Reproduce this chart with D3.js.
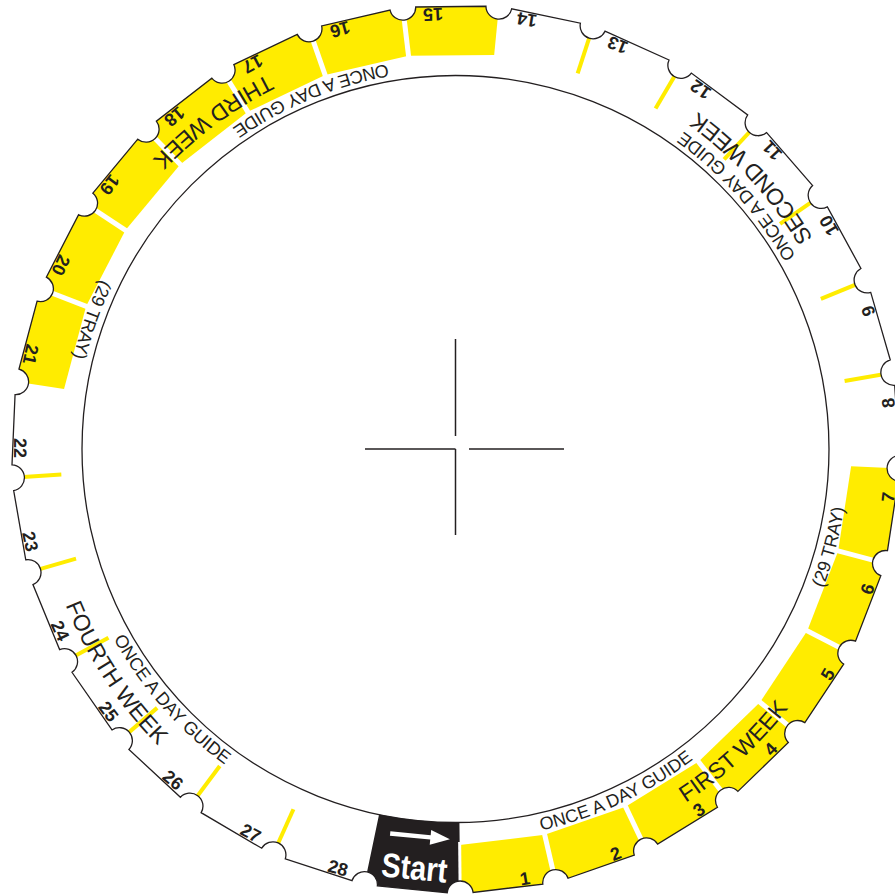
<!DOCTYPE html>
<html><head><meta charset="utf-8">
<script src="https://cdn.jsdelivr.net/npm/d3@7/dist/d3.min.js"></script>
<style>html,body{margin:0;padding:0;background:#fff;}svg{display:block}</style>
</head><body>
<svg id="c" width="895" height="894"></svg>
<script>
// ---------- data ----------
const dayLabels = ["1","2","3","4","5","6","7","8","9","10","11","12","13","14",
                   "15","16","17","18","19","20","21","22","23","24","25","26","27","28"];
const yellowDays = [1,2,3,4,5,6,7,15,16,17,18,19,20,21];
const tickDays = [9,10,11,12,13,14,23,24,25,26,27,28];   // tick at the start of these days
const weekLabels = ["FIRST WEEK","SECOND WEEK","THIRD WEEK","FOURTH WEEK"];
const weekSlots = [4.38, 11.62, 18.39, 25.39];
const guideLabel = "ONCE A DAY GUIDE";
const guideSlots = [2.97, 11.58, 17.26, 26.04];
const trayLabel = "(29 TRAY)";
const traySlots = [7.02, 21.13];
const startLabel = "Start";
const slotCount = 29;

// ---------- layout ----------
const cx = 455.5, cy = 449;
const R_IN = 373.5, R_Y = 396, R_V = 445, R_N = 13, R_OUT = 480;
const YELLOW = "#FFEC00", INK = "#231F20";
const FONT = "'Liberation Sans', Arial, Helvetica, sans-serif";

const angle = d3.scaleLinear().domain([0, slotCount]).range([191.81, 191.81 - 360]);
const rad = d => d * Math.PI / 180;
function polar(theta, r){ const t = rad(theta); return [cx + r*Math.sin(t), cy - r*Math.cos(t)]; }
function pt(u, r){ return polar(angle(u), r); }
function place(u, r){ const p = pt(u, r); return `translate(${p[0]},${p[1]}) rotate(${angle(u)-180})`; }

const svg = d3.select("#c");
const defs = svg.append("defs");

// outline with notches
const V = d3.range(slotCount).map(s => pt(s, R_V));
let d = "";
const A = [], B = [];
for (let i = 0; i < slotCount; i++){
  const P = V[i], Q = V[(i+1) % slotCount];
  const dx = Q[0]-P[0], dy = Q[1]-P[1], L = Math.hypot(dx, dy), ux = dx/L, uy = dy/L;
  A.push([P[0]+ux*R_N, P[1]+uy*R_N]);
  B.push([Q[0]-ux*R_N, Q[1]-uy*R_N]);
}
d += `M${A[0][0]},${A[0][1]}`;
for (let i = 0; i < slotCount; i++){
  const nA = A[(i+1) % slotCount];
  d += `L${B[i][0]},${B[i][1]}A${R_N},${R_N} 0 0 1 ${nA[0]},${nA[1]}`;
}
d += "Z";
defs.append("clipPath").attr("id","ring").append("path").attr("d", d);

const g = svg.append("g").attr("clip-path","url(#ring)");

// yellow day blocks
g.selectAll("path.day").data(yellowDays).enter().append("path")
  .attr("class","day")
  .attr("d", k => { const p = [pt(k,R_Y), pt(k+1,R_Y), pt(k+1,R_OUT), pt(k,R_OUT)]; return "M"+p.join("L")+"Z"; })
  .attr("fill", YELLOW);

// black start block
const arc = d3.arc();
g.append("path")
  .attr("transform", `translate(${cx},${cy})`)
  .attr("d", arc({innerRadius: R_IN, outerRadius: R_OUT, startAngle: rad(angle(1)), endAngle: rad(angle(0))}))
  .attr("fill", INK);

// white separators between adjacent filled blocks
const sepDays = yellowDays.filter(k => yellowDays.includes(k-1) || k === 1);
g.selectAll("line.sep").data(sepDays).enter().append("line")
  .attr("x1", k => pt(k, R_Y-3)[0]).attr("y1", k => pt(k, R_Y-3)[1])
  .attr("x2", k => pt(k, R_OUT)[0]).attr("y2", k => pt(k, R_OUT)[1])
  .attr("stroke", "#fff").attr("stroke-width", k => k === 1 ? 3 : 5);

// yellow ticks in white weeks
g.selectAll("line.tick").data(tickDays).enter().append("line")
  .attr("x1", k => pt(k, R_Y-1)[0]).attr("y1", k => pt(k, R_Y-1)[1])
  .attr("x2", k => pt(k, R_OUT)[0]).attr("y2", k => pt(k, R_OUT)[1])
  .attr("stroke", YELLOW).attr("stroke-width", 4);

// outline + inner circle
svg.append("path").attr("d", d).attr("fill","none").attr("stroke", INK).attr("stroke-width", 1.3);
svg.append("circle").attr("cx",cx).attr("cy",cy).attr("r",R_IN).attr("fill","none").attr("stroke",INK).attr("stroke-width",1.3);

// day numbers
svg.selectAll("text.num").data(dayLabels).enter().append("text")
  .attr("transform", (t,i) => place(i+1+0.69, 435))
  .attr("y", 6.4).attr("text-anchor","middle")
  .attr("font-family", FONT).attr("font-weight","bold").attr("font-size", 18)
  .attr("fill", INK).text(t => t);

// arc texts
let pid = 0;
function arcText(u, rBase, txt, size){
  const th = angle(u);
  const s = polar(th + 80, rBase), e = polar(th - 80, rBase);
  const id = "tp" + (pid++);
  defs.append("path").attr("id", id).attr("d", `M${s[0]},${s[1]}A${rBase},${rBase} 0 0 0 ${e[0]},${e[1]}`);
  svg.append("text").attr("font-family", FONT).attr("font-size", size).attr("fill", INK)
    .append("textPath").attr("href", "#"+id).attr("startOffset","50%").attr("text-anchor","middle").text(txt);
}
const weekBase = [422, 415, 419, 420];
weekLabels.forEach((w,i) => arcText(weekSlots[i], weekBase[i], w, 23));
guideSlots.forEach(u => arcText(u, 391, guideLabel, 18));
traySlots.forEach(u => arcText(u, 393, trayLabel, 18));

// start block content
const sg = svg.append("g").attr("transform", place(0.5, 389));
sg.append("rect").attr("x",-27.5).attr("y",-2.2).attr("width",43).attr("height",4.4).attr("fill","#fff");
sg.append("path").attr("d","M13,-7.5L32.5,0L13,7.5Z").attr("fill","#fff");
svg.append("text").attr("transform", place(0.5, 420))
  .attr("y", 12.5).attr("text-anchor","middle")
  .attr("font-family", FONT).attr("font-weight","bold").attr("font-size", 34)
  .attr("textLength", 66).attr("lengthAdjust","spacingAndGlyphs")
  .attr("fill","#fff").text(startLabel);

// crosshair
const ch = svg.append("g").attr("stroke", INK).attr("stroke-width", 1.5);
ch.append("line").attr("x1",cx).attr("y1",cy-110).attr("x2",cx).attr("y2",cy-13);
ch.append("line").attr("x1",cx).attr("y1",cy).attr("x2",cx).attr("y2",cy+86);
ch.append("line").attr("x1",cx-90.5).attr("y1",cy).attr("x2",cx).attr("y2",cy);
ch.append("line").attr("x1",cx+13.5).attr("y1",cy).attr("x2",cx+108.5).attr("y2",cy);
</script>
</body></html>
